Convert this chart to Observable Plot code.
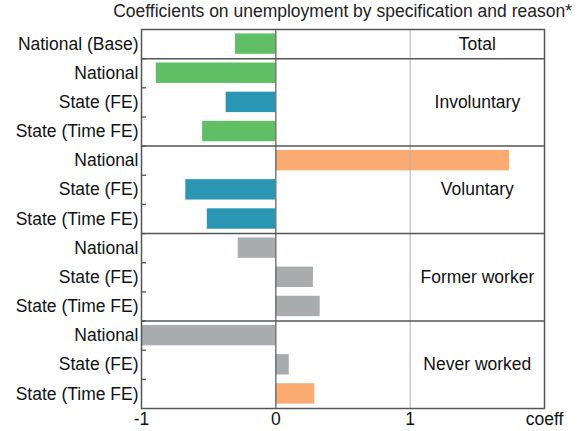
<!DOCTYPE html>
<html><head><meta charset="utf-8">
<script src="https://cdn.jsdelivr.net/npm/d3@7"></script>
<script src="https://cdn.jsdelivr.net/npm/@observablehq/plot@0.6"></script>
<style>
body{margin:0;background:#fff;font-family:"Liberation Sans",Arial,sans-serif;}
#sub{height:22px;line-height:22px;font-size:17.5px;text-align:right;padding-right:10px;color:#222;white-space:nowrap;overflow:visible;}
</style></head><body>
<div id="sub">Coefficients on unemployment by specification and reason*</div>
<div id="chart"></div>
<script>
const groups = ["Total","Involuntary","Involuntary","Involuntary","Voluntary","Voluntary","Voluntary","Former worker","Former worker","Former worker","Never worked","Never worked","Never worked"];
const rowLabels = ["National (Base)","National","State (FE)","State (Time FE)","National","State (FE)","State (Time FE)","National","State (FE)","State (Time FE)","National","State (FE)","State (Time FE)"];
const values = [-0.30,-0.89,-0.37,-0.545,1.74,-0.67,-0.51,-0.28,0.28,0.33,-1.0,0.10,0.29];
const colorKeys = ["g","g","b","g","o","b","b","x","x","x","x","x","o"];
const colorDomain = ["g","b","o","x"];
const colorRange = ["#60be64","#2a96b4","#f9ab72","#a9acad"];
const xTicks = [-1,0,1,2];

const data = values.map((v,i)=>({i, value:v, group:groups[i], label:rowLabels[i], key:colorKeys[i]}));
const groupNames = [...new Set(groups)];
const groupInfo = groupNames.map(g=>{
  const idx = data.filter(d=>d.group===g).map(d=>d.i);
  return {group:g, start:d3.min(idx), end:d3.max(idx)+1};
});
const boundaries = groupInfo.slice(1).map(d=>d.start);
const rowEdges = d3.range(1, values.length);

const chart = Plot.plot({
  width:582, height:409,
  marginLeft:141, marginRight:38, marginTop:7, marginBottom:23,
  style:{fontFamily:'"Liberation Sans",Arial,sans-serif', fontSize:"17.5px", color:"#111", overflow:"visible"},
  x:{domain:[-1,2], label:null},
  y:{domain:[0,values.length], reverse:true, label:null},
  color:{domain:colorDomain, range:colorRange},
  marks:[
    Plot.rect(data,{x1:()=>0, x2:"value", y1:d=>d.i+0.15, y2:d=>d.i+0.85, fill:"key"}),
    Plot.ruleX([0],{stroke:"#666", strokeWidth:1.3}),
    Plot.ruleX([1],{stroke:"#b0b0b0", strokeWidth:1}),
    Plot.ruleY(boundaries,{stroke:"#555", strokeWidth:1.5}),
    Plot.axisY({ticks:rowEdges, tickSize:5, dx:5, tickFormat:()=>"", stroke:"#555", strokeWidth:1.3, label:null}),
    Plot.axisY({ticks:data.map(d=>d.i+0.5), tickSize:0, tickPadding:3, fontSize:17.5, fill:"#111", tickFormat:t=>rowLabels[Math.floor(t)], label:null}),
    Plot.axisX({ticks:xTicks, tickSize:0, tickPadding:4, fontSize:17.5, fill:"#111", tickFormat:t=>t===2?"coeff":String(t), label:null}),
    Plot.text(groupInfo,{x:()=>1.5, y:d=>(d.start+d.end)/2, text:"group", fontSize:17.5, fill:"#111"}),
    Plot.frame({stroke:"#555", strokeWidth:1.5})
  ]
});
document.getElementById("chart").appendChild(chart);
</script>
</body></html>
